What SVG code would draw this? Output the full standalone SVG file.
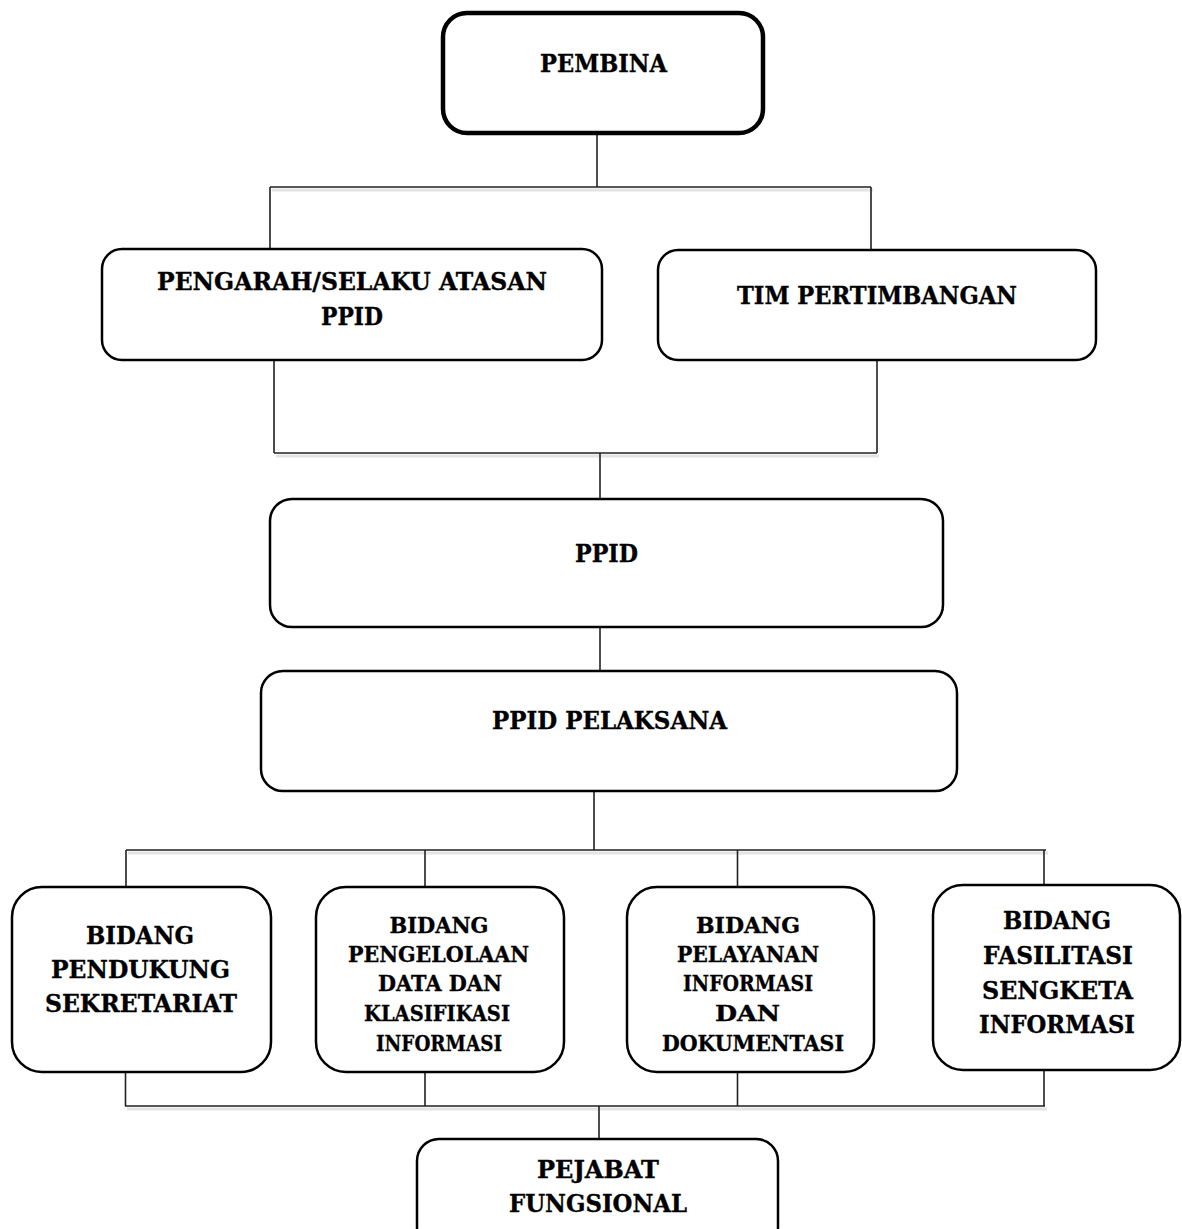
<svg xmlns="http://www.w3.org/2000/svg" width="1182" height="1229" viewBox="0 0 1182 1229">
<style>
.box{fill:#fff;stroke:#000;stroke-width:2.5}
.thick{stroke-width:4.5}
.t{font-family:"DejaVu Serif","Liberation Serif",serif;font-weight:bold;font-size:24px;fill:#000;stroke:#000;stroke-width:0.35;text-anchor:middle}
.s{font-size:22px}
.ln{stroke:#222;stroke-width:1.6;fill:none}
.sh{stroke:#e4e4e4;stroke-width:3;fill:none}
</style>
<rect width="1182" height="1229" fill="#fff"/>
<g id="connectors">
  <g transform="translate(2,3)">
    <path class="sh" d="M270,187 H871 M274,453 H877 M126,850 H1046 M125,1106 H1045"/>
  </g>
  <path class="ln" d="M597,135 V187 M270,187 H871 M270,187 V248 M871,187 V250"/>
  <path class="ln" d="M274,361 V453 M877,361 V453 M274,453 H877 M600,453 V498"/>
  <path class="ln" d="M600,628 V671"/>
  <path class="ln" d="M594,792 V850 M126,850 H1046 M126,850 V886 M425,850 V886 M737.5,850 V886 M1044,850 V884"/>
  <path class="ln" d="M125.5,1073 V1106 M425,1073 V1106 M737.5,1073 V1106 M1044,1071 V1106 M125,1106 H1045 M599,1106 V1138"/>
</g>
<g id="pembina">
  <rect class="box thick" x="443" y="13" width="320" height="120" rx="24"/>
  <text class="t" x="603.5" y="72" textLength="127" lengthAdjust="spacingAndGlyphs">PEMBINA</text>
</g>
<g id="pengarah">
  <rect class="box" x="102" y="249" width="500" height="111" rx="20"/>
  <text class="t" x="352" y="290" textLength="390" lengthAdjust="spacingAndGlyphs">PENGARAH/SELAKU ATASAN</text>
  <text class="t" x="352" y="325" textLength="62" lengthAdjust="spacingAndGlyphs">PPID</text>
</g>
<g id="tim">
  <rect class="box" x="658" y="250" width="438" height="110" rx="20"/>
  <text class="t" x="877" y="304" textLength="280" lengthAdjust="spacingAndGlyphs">TIM PERTIMBANGAN</text>
</g>
<g id="ppid">
  <rect class="box" x="270" y="499" width="673" height="128" rx="22"/>
  <text class="t" x="606.5" y="562" textLength="63" lengthAdjust="spacingAndGlyphs">PPID</text>
</g>
<g id="ppid-pelaksana">
  <rect class="box" x="261" y="671" width="696" height="120" rx="22"/>
  <text class="t" x="609.5" y="729" textLength="235" lengthAdjust="spacingAndGlyphs">PPID PELAKSANA</text>
</g>
<g id="bidang-sekretariat">
  <rect class="box" x="12" y="887" width="259" height="185" rx="30"/>
  <text class="t" x="140" y="944" textLength="108" lengthAdjust="spacingAndGlyphs">BIDANG</text>
  <text class="t" x="140.5" y="978" textLength="179" lengthAdjust="spacingAndGlyphs">PENDUKUNG</text>
  <text class="t" x="141" y="1012" textLength="192" lengthAdjust="spacingAndGlyphs">SEKRETARIAT</text>
</g>
<g id="bidang-pengelolaan">
  <rect class="box" x="316" y="887" width="248" height="185" rx="30"/>
  <text class="t s" x="439" y="933" textLength="99" lengthAdjust="spacingAndGlyphs">BIDANG</text>
  <text class="t s" x="438.5" y="962" textLength="181" lengthAdjust="spacingAndGlyphs">PENGELOLAAN</text>
  <text class="t s" x="440" y="991" textLength="124" lengthAdjust="spacingAndGlyphs">DATA DAN</text>
  <text class="t s" x="437" y="1021" textLength="146" lengthAdjust="spacingAndGlyphs">KLASIFIKASI</text>
  <text class="t s" x="439" y="1051" textLength="126" lengthAdjust="spacingAndGlyphs">INFORMASI</text>
</g>
<g id="bidang-pelayanan">
  <rect class="box" x="627" y="887" width="247" height="185" rx="30"/>
  <text class="t s" x="748" y="933" textLength="104" lengthAdjust="spacingAndGlyphs">BIDANG</text>
  <text class="t s" x="748" y="962" textLength="142" lengthAdjust="spacingAndGlyphs">PELAYANAN</text>
  <text class="t s" x="748" y="991" textLength="130" lengthAdjust="spacingAndGlyphs">INFORMASI</text>
  <text class="t s" x="747.5" y="1021" textLength="65" lengthAdjust="spacingAndGlyphs">DAN</text>
  <text class="t s" x="753" y="1051" textLength="182" lengthAdjust="spacingAndGlyphs">DOKUMENTASI</text>
</g>
<g id="bidang-fasilitasi">
  <rect class="box" x="933" y="885" width="247" height="185" rx="30"/>
  <text class="t" x="1057" y="929" textLength="108" lengthAdjust="spacingAndGlyphs">BIDANG</text>
  <text class="t" x="1058" y="964" textLength="150" lengthAdjust="spacingAndGlyphs">FASILITASI</text>
  <text class="t" x="1057.5" y="999" textLength="151" lengthAdjust="spacingAndGlyphs">SENGKETA</text>
  <text class="t" x="1057" y="1033" textLength="156" lengthAdjust="spacingAndGlyphs">INFORMASI</text>
</g>
<g id="pejabat">
  <rect class="box" x="417" y="1139" width="361" height="110" rx="22"/>
  <text class="t" x="598" y="1178" textLength="122" lengthAdjust="spacingAndGlyphs">PEJABAT</text>
  <text class="t" x="598" y="1212" textLength="178" lengthAdjust="spacingAndGlyphs">FUNGSIONAL</text>
</g>
</svg>
